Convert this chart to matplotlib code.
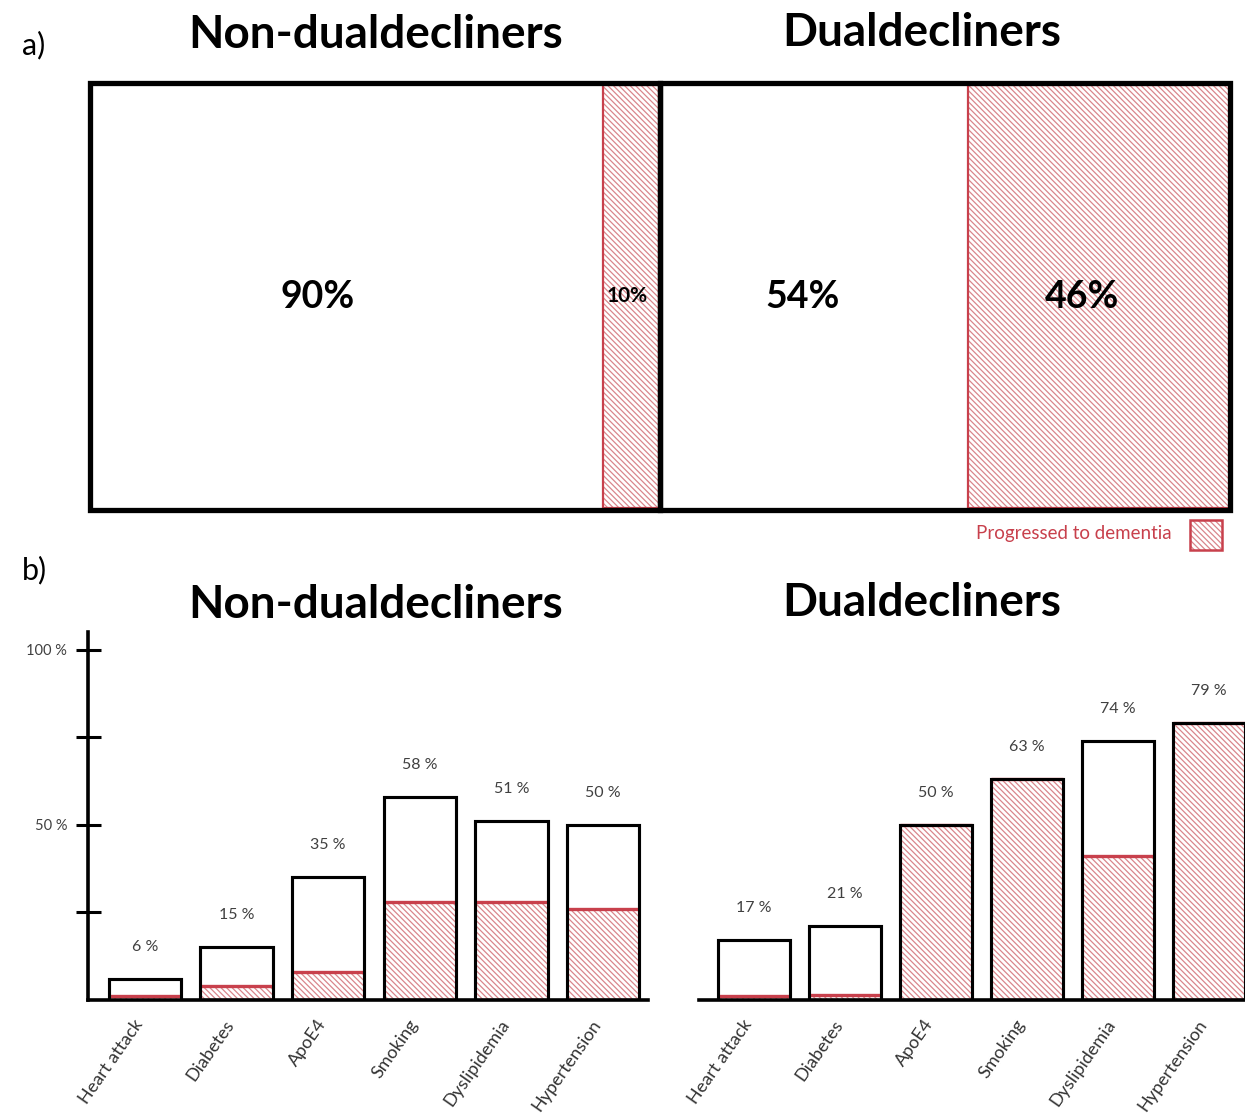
import numpy as np
import matplotlib.pyplot as plt
from matplotlib.patches import Rectangle

plt.rcParams['font.family'] = ['Lato', 'DejaVu Sans']
plt.rcParams['hatch.linewidth'] = 0.9

# a) share of each group that progressed to dementia
groups = ['Non-dualdecliners', 'Dualdecliners']
progressed_pct = [10, 46]
not_progressed_pct = [90, 54]

# b) risk factor prevalence and the part that progressed
factors = ['Heart attack', 'Diabetes', 'ApoE4', 'Smoking', 'Dyslipidemia', 'Hypertension']
non_total = [6, 15, 35, 58, 51, 50]
non_prog = [1, 4, 8, 28, 28, 26]
dual_total = [17, 21, 50, 63, 74, 79]
dual_prog = [1, 1.5, 50, 63, 41, 79]

HATCH = '\\' * 6
HATCH_COL = '#d9868c'
RED = '#c8404c'
W, H = 1245, 1117

fig = plt.figure(figsize=(W / 100, H / 100), dpi=100)


def px(x0, y0, x1, y1):
    # pixel box (top-left origin) -> figure fraction rect
    return [x0 / W, 1 - y1 / H, (x1 - x0) / W, (y1 - y0) / H]


# ---- a) mosaic ----
ax = fig.add_axes(px(90, 83, 1230, 510))
ax.set_xlim(0, 200)
ax.set_ylim(0, 1)
ax.axis('off')
nudge_n = [-5, -2]     # label nudges (x units) for the non-progressed / progressed text
nudge_p = [-0.8, -3]
for i, (p, n) in enumerate(zip(progressed_pct, not_progressed_pct)):
    x0 = i * 100
    ax.add_patch(Rectangle((x0 + n, 0), p, 1, facecolor='white', edgecolor=HATCH_COL,
                           hatch=HATCH, lw=0, zorder=1))
    ax.add_patch(Rectangle((x0 + n, 0.005), p, 0.99, fill=False, edgecolor=RED, lw=1.6,
                           zorder=2))
    ax.add_patch(Rectangle((x0, 0), 100, 1, fill=False, edgecolor='black', lw=3.8,
                           zorder=3, clip_on=False))
    ax.text(x0 + n / 2 + nudge_n[i], 0.5, f'{n}%', ha='center', va='center', fontsize=27,
            fontweight='bold', zorder=4)
    fs = 15 if p < 15 else 27
    ax.text(x0 + n + p / 2 + nudge_p[i], 0.5, f'{p}%', ha='center', va='center', fontsize=fs,
            fontweight='bold', zorder=4)

fig.text(22 / W, 1 - 45 / H, 'a)', fontsize=22, va='center')
fig.text(22 / W, 1 - 570 / H, 'b)', fontsize=22, va='center')
fig.text(376 / W, 1 - 35 / H, groups[0], fontsize=33, fontweight='bold', ha='center', va='center')
fig.text(922 / W, 1 - 33 / H, groups[1], fontsize=33, fontweight='bold', ha='center', va='center')
fig.text(376 / W, 1 - 605 / H, groups[0], fontsize=33, fontweight='bold', ha='center', va='center')
fig.text(922 / W, 1 - 603 / H, groups[1], fontsize=33, fontweight='bold', ha='center', va='center')

# legend
fig.text(1172 / W, 1 - 533 / H, 'Progressed to dementia', fontsize=13.5, color=RED,
         ha='right', va='center')
fig.add_artist(Rectangle((1190 / W, 1 - 550 / H), 32 / W, 30 / H, transform=fig.transFigure,
                         facecolor='white', edgecolor=HATCH_COL, hatch=HATCH, lw=0))
fig.add_artist(Rectangle((1190 / W, 1 - 550 / H), 32 / W, 30 / H, transform=fig.transFigure,
                         fill=False, edgecolor=RED, lw=1.8))


# ---- b) bars ----
def bar_panel(rect, total, prog, xlim, show_y):
    a = fig.add_axes(rect)
    x = np.arange(len(factors))
    w = 0.79
    a.bar(x, total, w, color='white', edgecolor='black', lw=2.2, zorder=1)
    a.bar(x, prog, w, color='none', edgecolor=HATCH_COL, hatch=HATCH, lw=0, zorder=2)
    a.hlines(prog, x - w / 2, x + w / 2, color=RED, lw=2.4, zorder=3)
    a.bar(x, total, w, fill=False, edgecolor='black', lw=2.2, zorder=4)
    for xi, t in zip(x, total):
        a.annotate(f'{t} %', (xi, t), xytext=(0, 18), textcoords='offset points',
                   ha='center', va='bottom', fontsize=11.5, color='#404040')
    a.set_xlim(*xlim)
    a.set_ylim(0, 105)
    # labels end slightly left of the bar centre
    a.set_xticks(x - 0.13)
    a.set_xticklabels(factors, rotation=55, ha='right', va='top',
                      rotation_mode='anchor', fontsize=13, color='#333333')
    a.tick_params(axis='x', length=0, pad=12)
    for s in ['top', 'right']:
        a.spines[s].set_visible(False)
    a.spines['bottom'].set_linewidth(2.6)
    if show_y:
        a.spines['left'].set_linewidth(2.6)
        a.set_yticks([25, 50, 75, 100])
        a.set_yticklabels(['', '50 %', '', '100 %'], fontsize=10.5, color='#404040')
        a.tick_params(axis='y', direction='inout', length=18, width=2.2, pad=6)
    else:
        a.spines['left'].set_visible(False)
        a.set_yticks([])
    return a


bar_panel(px(88, 632, 648, 1000), non_total, non_prog, (-0.62, 5.49), True)
bar_panel(px(699, 632, 1245, 1000), dual_total, dual_prog, (-0.6, 5.4), False)

fig.savefig('out.png', dpi=100)
